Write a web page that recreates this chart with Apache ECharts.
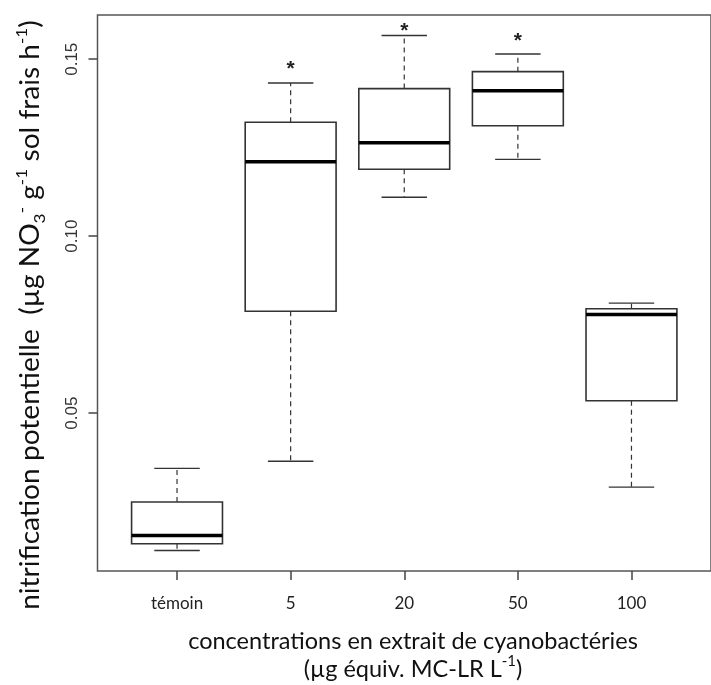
<!DOCTYPE html>
<html>
<head>
<meta charset="utf-8">
<script src="https://cdn.jsdelivr.net/npm/echarts@6/dist/echarts.min.js"></script>
<style>
  html, body { margin: 0; padding: 0; background: #fff; }
  #chart { width: 711px; height: 685px; }
</style>
</head>
<body>
<div id="chart"></div>
<script>
// ---- data ----
const categories   = ['témoin', '5', '20', '50', '100'];
const whiskerLow   = [0.0112, 0.0364, 0.1110, 0.1217, 0.0291];
const quart1       = [0.0131, 0.0788, 0.1189, 0.1312, 0.0535];
const medians      = [0.0154, 0.1210, 0.1264, 0.1411, 0.0779];
const quart3       = [0.0249, 0.1322, 0.1417, 0.1465, 0.0795];
const whiskerHigh  = [0.0344, 0.1433, 0.1567, 0.1515, 0.0811];
const signif       = ['', '*', '*', '*', ''];
const signifLevel  = [null, 0.1486, 0.1594, 0.1566, null];
const yTicks       = [0.05, 0.10, 0.15];
const yTickLabels  = ['0.05', '0.10', '0.15'];
const xPositions   = [1, 2, 3, 4, 5];

const boxData = categories.map((c, i) => [
  xPositions[i], whiskerLow[i], quart1[i], medians[i], quart3[i], whiskerHigh[i], i
]);

const LINE = '#333';
const chart = echarts.init(document.getElementById('chart'), null, { renderer: 'canvas' });

function renderBox(params, api) {
  const x = api.value(0);
  const idx = api.value(6);
  const lo = api.coord([x, api.value(1)]);
  const b1 = api.coord([x, api.value(2)]);
  const md = api.coord([x, api.value(3)]);
  const b3 = api.coord([x, api.value(4)]);
  const hi = api.coord([x, api.value(5)]);
  const half = api.size([0.4, 0])[0];
  const capHalf = api.size([0.2, 0])[0];
  const cx = lo[0];
  const dashStyle = { stroke: LINE, lineWidth: 1.2, lineDash: [5, 4] };
  const solid = { stroke: LINE, lineWidth: 1.4 };
  const children = [
    { type: 'line', shape: { x1: cx, y1: b1[1], x2: cx, y2: lo[1] }, style: dashStyle },
    { type: 'line', shape: { x1: cx, y1: b3[1], x2: cx, y2: hi[1] }, style: dashStyle },
    { type: 'line', shape: { x1: cx - capHalf, y1: lo[1], x2: cx + capHalf, y2: lo[1] }, style: solid },
    { type: 'line', shape: { x1: cx - capHalf, y1: hi[1], x2: cx + capHalf, y2: hi[1] }, style: solid },
    { type: 'rect', shape: { x: cx - half, y: b3[1], width: 2 * half, height: b1[1] - b3[1] },
      style: { fill: '#fff', stroke: LINE, lineWidth: 1.6 } },
    { type: 'line', shape: { x1: cx - half, y1: md[1], x2: cx + half, y2: md[1] },
      style: { stroke: '#000', lineWidth: 3.5 } }
  ];
  if (signif[idx] && signifLevel[idx] != null) {
    const s = api.coord([x, signifLevel[idx]]);
    children.push({
      type: 'text',
      style: { text: signif[idx], x: cx, y: s[1] + 5, align: 'center', verticalAlign: 'middle',
               font: 'bold 21px "Liberation Sans"', fill: '#222' }
    });
  }
  return { type: 'group', children };
}

const option = {
  backgroundColor: '#fff',
  animation: false,
  grid: {
    left: 97.5, top: 15, width: 623, height: 556,
    show: true, borderColor: '#555', borderWidth: 1.5, backgroundColor: 'transparent'
  },
  xAxis: {
    type: 'value', min: 0.3, max: 5.7,
    axisLine: { show: false },
    splitLine: { show: false },
    axisTick: { show: true, customValues: xPositions, length: 9, lineStyle: { color: '#444', width: 1.5 } },
    axisLabel: {
      customValues: xPositions,
      formatter: v => categories[Math.round(v) - 1] || '',
      margin: 24, fontSize: 17, fontFamily: 'Lato', color: '#222'
    }
  },
  yAxis: {
    type: 'value', min: 0.0054, max: 0.1625,
    axisLine: { show: false },
    splitLine: { show: false },
    axisTick: { show: true, customValues: yTicks, length: 9, lineStyle: { color: '#444', width: 1.5 } },
    axisLabel: {
      customValues: yTicks,
      formatter: v => yTickLabels[yTicks.findIndex(t => Math.abs(t - v) < 1e-9)] || '',
      rotate: 90, margin: 17, fontSize: 17, fontFamily: 'Liberation Sans', color: '#333'
    }
  },
  graphic: [
    {
      type: 'text', x: 31, y: 315, rotation: Math.PI / 2, scaleX: 1.08, scaleY: 1,
      style: {
        text: 'nitrification potentielle  (µg NO{sub|3}{sup|-} g{sup|-1} sol frais h{sup|-1})',
        fontSize: 26, fontFamily: 'Lato', fill: '#111', lineHeight: 34,
        align: 'center', verticalAlign: 'middle',
        rich: {
          sub: { fontSize: 16, fontFamily: 'Lato', lineHeight: 16, verticalAlign: 'bottom', fill: '#111' },
          sup: { fontSize: 16, fontFamily: 'Lato', lineHeight: 16, verticalAlign: 'top', fill: '#111' }
        }
      }
    },
    {
      type: 'text', x: 413, y: 641,
      style: { text: 'concentrations en extrait de cyanobactéries', fontSize: 23.5, fontFamily: 'Lato',
               fill: '#111', align: 'center', verticalAlign: 'middle' }
    },
    {
      type: 'text', x: 413, y: 669,
      style: {
        text: '(µg équiv. MC-LR L{sup|-1})', fontSize: 23.5, fontFamily: 'Lato', fill: '#111',
        lineHeight: 30, align: 'center', verticalAlign: 'middle',
        rich: { sup: { fontSize: 15, fontFamily: 'Lato', lineHeight: 15, verticalAlign: 'top', fill: '#111' } }
      }
    }
  ],
  series: [{
    type: 'custom',
    renderItem: renderBox,
    data: boxData,
    encode: { x: 0, y: [1, 2, 3, 4, 5] },
    clip: false
  }]
};
chart.setOption(option);
</script>
</body>
</html>
